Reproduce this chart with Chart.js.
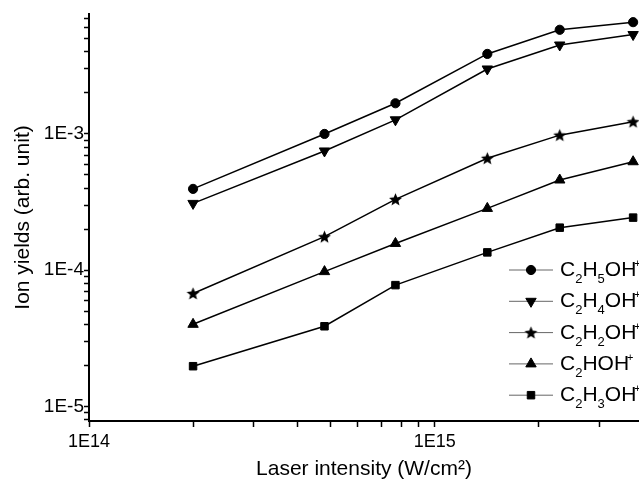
<!DOCTYPE html>
<html>
<head>
<meta charset="utf-8">
<script src="https://cdn.jsdelivr.net/npm/chart.js@4.4.1/dist/chart.umd.min.js"></script>
<style>
  html, body { margin: 0; padding: 0; background: #fff; }
  #chart { display: block; }
</style>
</head>
<body>
<canvas id="chart" width="639" height="483"></canvas>
<script>
// laser intensity (W/cm2)
const intensities = [2e14, 4.8e14, 7.7e14, 1.42e15, 2.3e15, 3.75e15];

// ion yields (arb. unit)
const c2h5oh = [3.95e-4, 1.0e-3, 1.68e-3, 3.87e-3, 5.82e-3, 6.62e-3];
const c2h4oh = [3.09e-4, 7.5e-4, 1.27e-3, 3.0e-3, 4.5e-3, 5.37e-3];
const c2h2oh = [6.74e-5, 1.76e-4, 3.31e-4, 6.63e-4, 9.8e-4, 1.23e-3];
const c2hoh = [4.0e-5, 9.75e-5, 1.57e-4, 2.84e-4, 4.59e-4, 6.25e-4];
const c2h3oh = [1.97e-5, 3.87e-5, 7.76e-5, 1.35e-4, 2.05e-4, 2.43e-4];

const ionLabels = ['C₂H₅OH⁺', 'C₂H₄OH⁺', 'C₂H₂OH⁺', 'C₂HOH⁺', 'C₂H₃OH⁺'];

const xTickLabels = ['1E14', '1E15'];
const yTickLabels = ['1E-5', '1E-4', '1E-3'];

const fontFamily = '"Liberation Sans", Arial, Helvetica, sans-serif';

// filled five point star, chart.js 'star' is only a cross
const starImage = (() => {
    let c = document.createElement('canvas');
    c.width = 15; c.height = 15;
    let g = c.getContext('2d');
    g.fillStyle = '#000';
    g.beginPath();
    for (let k = 0; k < 10; k++) {
        let r = k % 2 === 0 ? 6.8 : 3.0;
        let a = -Math.PI / 2 + k * Math.PI / 5;
        let px = 7.5 + r * Math.cos(a), py = 8 + r * Math.sin(a);
        if (k === 0) g.moveTo(px, py); else g.lineTo(px, py);
    }
    g.closePath();
    g.fill();
    return c;
})();

// decade ticks plus the 2..9 minor ones
const buildLogTicks = (min, max) => {
    let ticks = [];
    for (let e = Math.floor(Math.log10(min)); e <= Math.ceil(Math.log10(max)); e++) {
        for (let m = 1; m <= 9; m++) {
            let v = m * Math.pow(10, e);
            if (v >= min * 0.999 && v <= max * 1.001) ticks.push({ value: v, major: m === 1 });
        }
    }
    return ticks;
};

const labelFor = (labels) => (value) => {
    let found = labels.find((l) => Math.abs(Math.log10(Number(l)) - Math.log10(value)) < 1e-6);
    return found || '';
};

const subDigits = '₀₁₂₃₄₅₆₇₈₉';
const supChars = { '⁺': '+' };

// draws C₂H₅OH⁺ style text with real lowered / raised characters
const drawFormula = (ctx, text, x, baseline) => {
    ctx.textBaseline = 'alphabetic';
    ctx.textAlign = 'left';
    for (const ch of text) {
        let s = ch, size = 21, dy = 0;
        if (subDigits.includes(ch)) { s = String(subDigits.indexOf(ch)); size = 13; dy = 7; }
        else if (supChars[ch]) { s = supChars[ch]; size = 11; dy = -9; x -= 2; }
        ctx.font = size + 'px ' + fontFamily;
        ctx.fillText(s, x, baseline + dy);
        x += ctx.measureText(s).width;
    }
};

const legendPlugin = {
    id: 'ionLegend',
    afterDatasetsDraw(chart) {
        let { ctx, chartArea } = chart;
        chart.data.datasets.forEach((ds, i) => {
            let y = chartArea.bottom - 151 + i * 31.3;
            let xLine = chartArea.right - 130;
            ctx.save();
            ctx.strokeStyle = '#666';
            ctx.lineWidth = 1;
            ctx.beginPath();
            ctx.moveTo(xLine, y);
            ctx.lineTo(xLine + 44, y);
            ctx.stroke();
            ctx.fillStyle = '#000';
            ctx.strokeStyle = '#000';
            ctx.lineWidth = 1;
            Chart.helpers.drawPoint(ctx, {
                pointStyle: ds.pointStyle,
                rotation: ds.pointRotation || 0,
                radius: ds.pointRadius,
                borderWidth: 1
            }, xLine + 22, y);
            ctx.fillStyle = '#000';
            drawFormula(ctx, ds.label, chartArea.right - 79, y + 6);
            ctx.restore();
        });
    }
};

const series = [
    { label: ionLabels[0], data: c2h5oh, pointStyle: 'circle', pointRadius: 4.6, pointRotation: 0 },
    { label: ionLabels[1], data: c2h4oh, pointStyle: 'triangle', pointRadius: 6, pointRotation: 180 },
    { label: ionLabels[2], data: c2h2oh, pointStyle: starImage, pointRadius: 6, pointRotation: 0 },
    { label: ionLabels[3], data: c2hoh, pointStyle: 'triangle', pointRadius: 6, pointRotation: 0 },
    { label: ionLabels[4], data: c2h3oh, pointStyle: 'rect', pointRadius: 5.3, pointRotation: 0 }
];

let canvas = document.getElementById('chart');
let chart = new Chart(canvas, {
    type: 'line',
    data: {
        datasets: series.map((s) => ({
            label: s.label,
            data: s.data.map((v, i) => ({ x: intensities[i], y: v })),
            borderColor: '#000',
            borderWidth: 1.5,
            backgroundColor: '#000',
            pointStyle: s.pointStyle,
            pointRadius: s.pointRadius,
            pointRotation: s.pointRotation,
            pointBackgroundColor: '#000',
            pointBorderColor: '#000',
            pointBorderWidth: 1,
            tension: 0,
            fill: false,
            clip: false
        }))
    },
    options: {
        responsive: false,
        animation: false,
        devicePixelRatio: 1,
        layout: { autoPadding: false, padding: { top: 14, right: 0, bottom: 0, left: 0 } },
        plugins: {
            legend: { display: false },
            tooltip: { enabled: false }
        },
        scales: {
            x: {
                type: 'logarithmic',
                min: 1e14,
                max: 3.9e15,
                afterBuildTicks: (scale) => { scale.ticks = buildLogTicks(scale.min, scale.max); },
                afterFit: (scale) => {
                    scale.height = 62;
                    scale.paddingLeft = 0;
                    scale.paddingRight = 0;
                },
                border: { display: true, color: '#000', width: 2 },
                grid: { drawOnChartArea: false, drawTicks: true, tickLength: 6, tickWidth: 1.5, tickColor: '#000' },
                ticks: {
                    autoSkip: false,
                    maxRotation: 0,
                    padding: 4,
                    color: '#000',
                    font: { family: fontFamily, size: 18 },
                    callback: labelFor(xTickLabels)
                },
                title: {
                    display: true,
                    text: 'Laser intensity (W/cm²)',
                    color: '#000',
                    font: { family: fontFamily, size: 21 },
                    padding: { top: 0, bottom: 1 }
                }
            },
            y: {
                type: 'logarithmic',
                min: 7.8e-6,
                max: 7.6e-3,
                afterBuildTicks: (scale) => { scale.ticks = buildLogTicks(scale.min, scale.max); },
                afterFit: (scale) => {
                    scale.width = 89;
                    scale.paddingTop = 0;
                    scale.paddingBottom = 0;
                },
                border: { display: true, color: '#000', width: 2 },
                grid: { drawOnChartArea: false, drawTicks: true, tickLength: 5, tickWidth: 1.5, tickColor: '#000' },
                ticks: {
                    autoSkip: false,
                    padding: 0,
                    color: '#000',
                    font: { family: fontFamily, size: 19 },
                    callback: labelFor(yTickLabels)
                },
                title: {
                    display: true,
                    text: 'Ion yields (arb. unit)',
                    color: '#000',
                    font: { family: fontFamily, size: 21 },
                    padding: { top: 11, bottom: 0 }
                }
            }
        }
    },
    plugins: [legendPlugin]
});
</script>
</body>
</html>
